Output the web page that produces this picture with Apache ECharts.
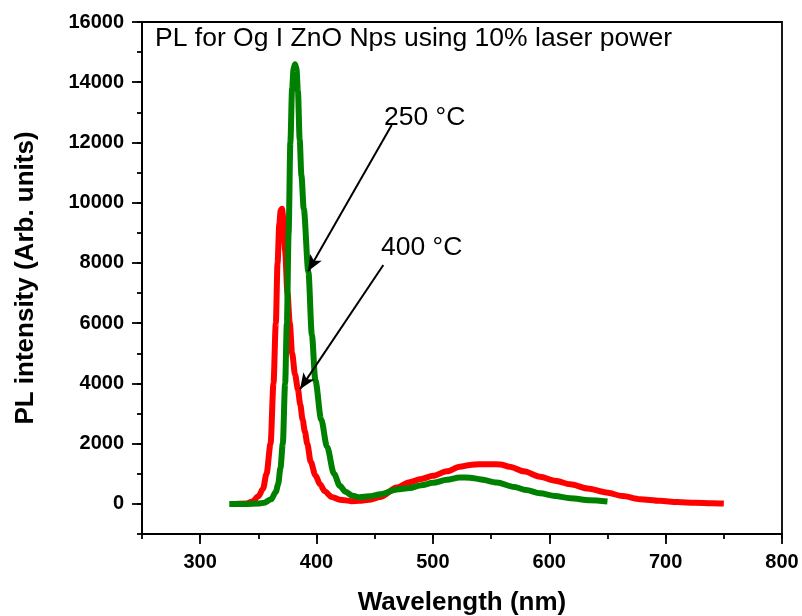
<!DOCTYPE html>
<html style="height: 100%">
<head>
	<meta charset="UTF-8">
	<title>PL spectra</title>
	<script src="https://cdn.jsdelivr.net/npm/echarts@6/dist/echarts.min.js"></script>
</head>
<body style="height: 100%; margin: 0; background: #fff">
	<div id="container" style="width: 802px; height: 616px;"></div>
<script type="text/javascript">
// 250 °C sample (green)
var wl250 = [325, 340, 350, 355, 361, 365, 367, 369, 371, 373, 374.5, 376, 377.5, 379, 380.3, 381.5, 382.7, 384, 385.5, 387, 389, 393, 396, 399, 404, 409, 415, 420, 425, 431, 437, 445, 455, 469, 480, 490, 500, 512, 523, 532, 540, 555, 570, 580, 592, 605, 618, 635, 650];
var pl250 = [0, 0, 10, 40, 150, 400, 650, 1200, 2000, 4000, 6000, 9000, 12000, 13800, 14450, 14600, 14450, 13700, 12100, 10900, 9800, 7700, 5600, 4100, 2800, 1900, 1000, 600, 400, 270, 220, 250, 320, 480, 530, 620, 700, 800, 880, 870, 820, 710, 560, 460, 350, 260, 190, 120, 80];

// 400 °C sample (red)
var wl400 = [330, 340, 345, 350, 354, 357, 360.5, 363, 365, 366.5, 368, 369.2, 370.3, 371.5, 373, 375, 377, 379, 381.5, 384, 386, 388, 390, 392, 395, 399, 403, 407, 413, 420, 430, 437, 445, 455, 469, 480, 490, 500, 512, 523, 532, 540, 550, 558, 566, 578, 592, 605, 618, 633, 649, 663, 678, 695, 710, 725, 740, 750];
var pl400 = [0, 10, 80, 250, 500, 1000, 2000, 4000, 6000, 8000, 9300, 9750, 9800, 9500, 8400, 7000, 6000, 5000, 4300, 3800, 3300, 2800, 2400, 2000, 1400, 950, 650, 420, 230, 140, 90, 100, 140, 230, 540, 720, 830, 930, 1080, 1230, 1290, 1320, 1320, 1310, 1230, 1080, 900, 770, 650, 510, 380, 260, 155, 100, 60, 35, 20, 10];

var yMajorTicks = [0, 2000, 4000, 6000, 8000, 10000, 12000, 14000, 16000];
var xMajorTicks = [300, 400, 500, 600, 700, 800];

// arrow annotations: [x, y] start (near label) -> end (on curve)
var arrow250 = [[464.6, 12580], [392.7, 7725]];
var arrow400 = [[457.4, 7930], [385.8, 3810]];

function pairs(xs, ys) {
	var out = [];
	for (var i = 0; i < xs.length; i++) out.push([xs[i], ys[i]]);
	return out;
}

var dom = document.getElementById('container');
var myChart = echarts.init(dom, null, { renderer: 'canvas' });
var fontFam = 'Arial, "Liberation Sans", sans-serif';

var tickLabel = {
	fontFamily: fontFam, fontSize: 20, fontWeight: 'bold', color: '#000', margin: 18,
	formatter: function (v) { return String(v); }
};
var nameStyle = { fontFamily: fontFam, fontSize: 26, fontWeight: 'bold', color: '#000' };

var option = {
	animation: false,
	backgroundColor: '#fff',
	grid: {
		left: 142, right: 20, top: 22, bottom: 82,
		outerBoundsMode: 'none',
		show: true, borderColor: '#000', borderWidth: 1.8, backgroundColor: 'transparent'
	},
	xAxis: [{
		type: 'value', min: 250, max: 800, interval: 50,
		splitLine: { show: false },
		axisLine: { onZero: false, lineStyle: { color: '#000', width: 1.8 } },
		axisTick: { length: 5, lineStyle: { color: '#000', width: 1.8 } },
		axisLabel: { show: false },
		name: 'Wavelength (nm)', nameLocation: 'middle', nameGap: 56,
		nameTextStyle: nameStyle
	}, {
		type: 'value', min: 250, max: 800, interval: 50, position: 'bottom',
		splitLine: { show: false },
		axisLine: { show: false, onZero: false },
		axisTick: { length: 10, customValues: xMajorTicks, lineStyle: { color: '#000', width: 1.8 } },
		axisLabel: Object.assign({ customValues: xMajorTicks }, tickLabel)
	}],
	yAxis: [{
		type: 'value', min: -1000, max: 16000, interval: 1000,
		splitLine: { show: false },
		axisLine: { show: true, onZero: false, lineStyle: { color: '#000', width: 1.8 } },
		axisTick: { show: true, length: 5, lineStyle: { color: '#000', width: 1.8 } },
		axisLabel: { show: false },
		name: 'PL intensity (Arb. units)', nameLocation: 'middle', nameGap: 103,
		nameTextStyle: nameStyle
	}, {
		type: 'value', min: -1000, max: 16000, interval: 1000, position: 'left',
		splitLine: { show: false },
		axisLine: { show: false, onZero: false },
		axisTick: { show: true, length: 10, customValues: yMajorTicks, lineStyle: { color: '#000', width: 1.8 } },
		axisLabel: Object.assign({ customValues: yMajorTicks }, tickLabel)
	}],
	series: [{
		name: '400 °C',
		type: 'line',
		data: pairs(wl400, pl400),
		showSymbol: false,
		smooth: 0.3,
		smoothMonotone: 'x',
		lineStyle: { color: '#ff0000', width: 6 },
		itemStyle: { color: '#ff0000' },
		z: 2
	}, {
		name: '250 °C',
		type: 'line',
		data: pairs(wl250, pl250),
		showSymbol: false,
		smooth: 0.3,
		smoothMonotone: 'x',
		lineStyle: { color: '#008000', width: 6 },
		itemStyle: { color: '#008000' },
		z: 3,
		markLine: {
			silent: true,
			symbol: ['none', 'arrow'],
			symbolSize: [10, 16],
			label: { show: false },
			lineStyle: { color: '#000', width: 2, type: 'solid' },
			data: [
				[{ coord: arrow250[0] }, { coord: arrow250[1] }],
				[{ coord: arrow400[0] }, { coord: arrow400[1] }]
			],
			z: 10
		}
	}],
	graphic: [{
		type: 'text', left: 155, top: 27, scaleX: 1.06,
		style: { text: 'PL for Og I ZnO Nps using 10% laser power', font: '25px ' + fontFam, fill: '#000' }
	}, {
		type: 'text', left: 384, top: 106, scaleX: 1.06,
		style: { text: '250 °C', font: '25px ' + fontFam, fill: '#000' }
	}, {
		type: 'text', left: 381, top: 236, scaleX: 1.06,
		style: { text: '400 °C', font: '25px ' + fontFam, fill: '#000' }
	}]
};

myChart.setOption(option);
</script>
</body>
</html>
